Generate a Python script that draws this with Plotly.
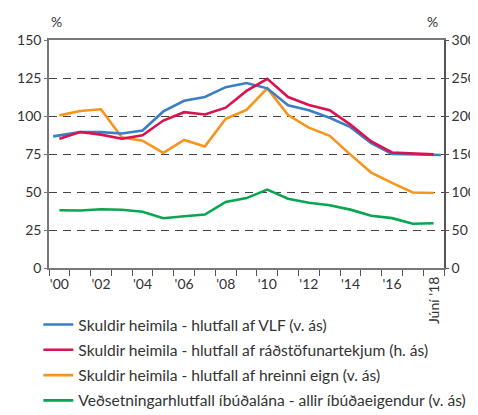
import plotly.graph_objects as go

YEARS = list(range(2000, 2019))
TICK_YEARS = [2000, 2002, 2004, 2006, 2008, 2010, 2012, 2014, 2016]
TICK_TEXT = ["'00", "'02", "'04", "'06", "'08", "'10", "'12", "'14", "'16"]
LAST_LABEL = "Júní '18"

# Skuldir heimila - hlutfall af VLF (v. ás)
VLF_X = [1999.7, 2001, 2002, 2003, 2004, 2005, 2006, 2007, 2008, 2009,
         2010, 2011, 2012, 2013, 2014, 2015, 2016, 2017, 2018.35]
VLF = [86.6, 89.4, 89.4, 88.5, 90.5, 103.0, 110.0, 112.5, 119.0, 121.7,
       118.2, 107.0, 103.8, 98.8, 92.7, 82.2, 75.0, 74.7, 74.3]
# Skuldir heimila - hlutfall af ráðstöfunartekjum (h. ás)
RADST = [170, 179, 175.5, 170, 174.5, 194, 205, 202, 211, 233,
         249, 225, 214.5, 207.5, 188.6, 166.5, 152, 151, 149.5]
# Skuldir heimila - hlutfall af hreinni eign (v. ás)
HREIN = [100.4, 103.3, 104.4, 86.0, 83.8, 75.7, 84.2, 80.0, 98.2, 104.0,
         118.2, 100.6, 92.3, 87.0, 74.6, 62.8, 56.0, 49.7, 49.3]
# Veðsetningarhlutfall íbúðalána - allir íbúðaeigendur (v. ás)
VEDS = [38.0, 37.8, 38.7, 38.3, 37.0, 32.7, 34.1, 35.2, 43.5, 46.0,
        51.6, 45.6, 42.9, 41.3, 38.4, 34.4, 32.8, 29.1, 29.4]

NAMES = [
    "Skuldir heimila - hlutfall af VLF (v. ás)",
    "Skuldir heimila - hlutfall af ráðstöfunartekjum (h. ás)",
    "Skuldir heimila - hlutfall af hreinni eign (v. ás)",
    "Veðsetningarhlutfall íbúðalána - allir íbúðaeigendur (v. ás)",
]
COLORS = ["#3b7ec6", "#d8134f", "#f7941d", "#0aa54f"]

FONT = "Lato"
TXT = "#333333"
LW = 2.6

fig = go.Figure()
# drawing order: green, orange, blue, red (red on top); legend order via legendrank
fig.add_trace(go.Scatter(x=YEARS, y=VEDS, name=NAMES[3], mode="lines",
                         line=dict(color=COLORS[3], width=LW),
                         legendgroup="g4", legendrank=4))
fig.add_trace(go.Scatter(x=YEARS, y=HREIN, name=NAMES[2], mode="lines",
                         line=dict(color=COLORS[2], width=LW),
                         legendgroup="g3", legendrank=3))
fig.add_trace(go.Scatter(x=VLF_X, y=VLF, name=NAMES[0], mode="lines",
                         line=dict(color=COLORS[0], width=LW),
                         legendgroup="g1", legendrank=1))
fig.add_trace(go.Scatter(x=YEARS, y=RADST, name=NAMES[1], mode="lines", yaxis="y2",
                         line=dict(color=COLORS[1], width=LW),
                         legendgroup="g2", legendrank=2))

boundaries = [YEARS[0] - 0.5 + i for i in range(len(YEARS) + 1)]

fig.update_layout(
    width=478, height=415,
    margin=dict(l=41, r=42, t=32, b=155, autoexpand=False),
    paper_bgcolor="white", plot_bgcolor="white",
    font=dict(family=FONT, size=14, color=TXT),
    showlegend=True,
    legend=dict(x=-0.027, y=-0.175, xanchor="left", yanchor="top",
                traceorder="grouped", tracegroupgap=2,
                font=dict(family=FONT, size=15.6, color=TXT),
                bgcolor="rgba(0,0,0,0)"),
    xaxis=dict(
        range=[YEARS[0] - 0.5, YEARS[-1] + 0.5],
        tickmode="array", tickvals=TICK_YEARS, ticktext=TICK_TEXT,
        ticks="", ticklabelstandoff=2, showgrid=False, zeroline=False,
        showline=True, linecolor="#777777", linewidth=1.5, mirror=True,
        tickfont=dict(family=FONT, size=14, color=TXT),
        minor=dict(tickmode="array", tickvals=boundaries, ticks="outside",
                   ticklen=6, tickwidth=1.3, tickcolor="#555555", showgrid=False),
    ),
    yaxis=dict(
        range=[0, 150], dtick=25, tick0=0,
        showgrid=True, gridcolor="#444444", gridwidth=1.1, griddash="8px,6px",
        zeroline=False, showline=True, linecolor="#777777", linewidth=1.5,
        ticks="outside", ticklen=3, tickcolor="#777777",
        tickfont=dict(family=FONT, size=14, color=TXT),
    ),
    yaxis2=dict(
        range=[0, 300], dtick=50, tick0=0, overlaying="y", side="right",
        showgrid=False, zeroline=False, showline=True, linecolor="#555555",
        linewidth=1.5, ticks="outside", ticklen=3, tickcolor="#555555",
        tickfont=dict(family=FONT, size=14, color=TXT),
    ),
    annotations=[
        dict(text="%", xref="paper", yref="paper", x=0.0, y=1.0, xanchor="left",
             yanchor="bottom", yshift=8, showarrow=False,
             font=dict(family=FONT, size=14, color=TXT)),
        dict(text="%", xref="paper", yref="paper", x=1.0, y=1.0, xanchor="right",
             yanchor="bottom", yshift=8, xshift=-4, showarrow=False,
             font=dict(family=FONT, size=14, color=TXT)),
        dict(text=LAST_LABEL, xref="x", yref="paper", x=YEARS[-1], y=0.0,
             xanchor="center", yanchor="top", yshift=-7, textangle=-90,
             showarrow=False, font=dict(family=FONT, size=14, color=TXT)),
    ],
)

fig.write_html("out.html")
